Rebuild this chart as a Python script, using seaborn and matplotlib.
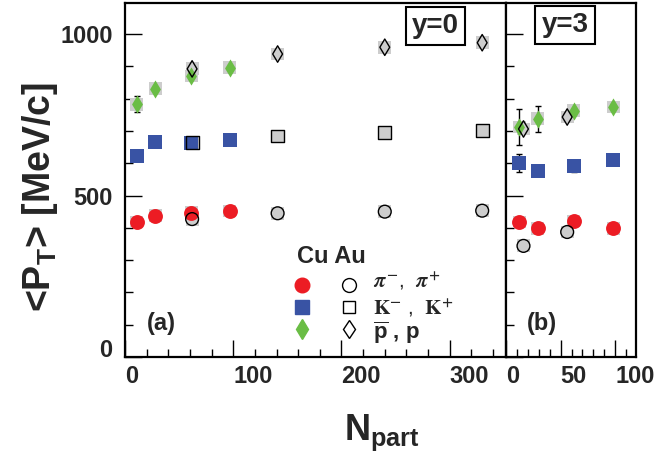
import numpy as np
import pandas as pd
import matplotlib
matplotlib.use("Agg")
import matplotlib.pyplot as plt
import seaborn as sns
from matplotlib.patches import Rectangle
from matplotlib.lines import Line2D

# ---------------- data ----------------
# y = 0 panel
y0_cu_npart = [11, 28, 61, 97]
y0_au_npart = [62, 141, 240, 330]
y0_cu_pi = [418, 437, 446, 452]
y0_au_pi = [427, 445, 450, 453]
y0_cu_k = [623, 665, 663, 672]
y0_au_k = [665, 684, 696, 701]
y0_cu_p = [782, 830, 870, 896]
y0_au_p = [892, 938, 959, 973]
y0_cu_p_err = [25, 0, 0, 0]

# y = 3 panel
y3_cu_npart = [12, 29, 62, 98]
y3_au_npart = [16, 56]
y3_cu_pi = [418, 399, 421, 399]
y3_au_pi = [344, 387]
y3_cu_k = [601, 576, 591, 610]
y3_cu_k_err = [27, 12, 18, 0]
y3_cu_p = [712, 737, 762, 774]
y3_cu_p_err = [57, 39, 0, 0]
y3_au_p = [706, 743]

panel_labels = ["(a)", "(b)"]
rapidity_labels = ["y=0", "y=3"]
legend_labels = [r"$\pi^{-}$,  $\pi^{+}$", r"$\mathrm{K}^{-}$ ,  $\mathrm{K}^{+}$", r"$\mathbf{\overline{p}}$ , p"]

# ---------------- style ----------------
sns.set_style("white")
plt.rcParams["font.family"] = ["Liberation Sans", "DejaVu Sans"]
plt.rcParams["font.weight"] = "bold"
plt.rcParams["mathtext.fontset"] = "custom"
plt.rcParams["mathtext.rm"] = "Liberation Sans:bold"
plt.rcParams["mathtext.bf"] = "Liberation Sans:bold"
plt.rcParams["mathtext.it"] = "Liberation Sans:bold"

RED = "#ec1c24"
BLUE = "#3953a4"
GREEN = "#6abd45"
BOXC = "#cdcdcd"
YMAX = 1096

fig = plt.figure(figsize=(6.55, 4.57), dpi=100)
axL = fig.add_axes([125 / 655, 1 - 357 / 457, 381 / 655, 354 / 457])
axR = fig.add_axes([506 / 655, 1 - 357 / 457, 130 / 655, 354 / 457])


def sys_boxes(ax, xs, ys, hw=6, hh=20):
    for x, y in zip(xs, ys):
        ax.add_patch(Rectangle((x - hw, y - hh), 2 * hw, 2 * hh, fc=BOXC, ec="none", zorder=1))


def filled(ax, xs, ys, marker, color, s):
    df = pd.DataFrame({"x": xs, "y": ys})
    sys_boxes(ax, xs, ys)
    sns.scatterplot(data=df, x="x", y="y", ax=ax, marker=marker, color=color, s=s,
                    linewidth=0, legend=False, zorder=3)


def opened(ax, xs, ys, marker, s):
    df = pd.DataFrame({"x": xs, "y": ys})
    sys_boxes(ax, xs, ys)
    sns.scatterplot(data=df, x="x", y="y", ax=ax, marker=marker, facecolors="none",
                    edgecolors="black", s=s, linewidth=1.0, legend=False, zorder=4)


def errs(ax, xs, ys, es):
    xs, ys, es = map(np.asarray, (xs, ys, es))
    m = es > 0
    ax.errorbar(xs[m], ys[m], yerr=es[m], fmt="none", ecolor="black", elinewidth=1,
                capsize=2.5, capthick=1, zorder=2)


# left panel
errs(axL, y0_cu_npart, y0_cu_p, y0_cu_p_err)
filled(axL, y0_cu_npart, y0_cu_pi, "o", RED, 115)
filled(axL, y0_cu_npart, y0_cu_k, "s", BLUE, 100)
filled(axL, y0_cu_npart, y0_cu_p, "d", GREEN, 85)
opened(axL, y0_au_npart, y0_au_pi, "o", 85)
opened(axL, y0_au_npart, y0_au_k, "s", 85)
opened(axL, y0_au_npart, y0_au_p, "d", 70)

# right panel
errs(axR, y3_cu_npart, y3_cu_p, y3_cu_p_err)
errs(axR, y3_cu_npart, y3_cu_k, y3_cu_k_err)
filled(axR, y3_cu_npart, y3_cu_pi, "o", RED, 115)
filled(axR, y3_cu_npart, y3_cu_k, "s", BLUE, 100)
filled(axR, y3_cu_npart, y3_cu_p, "d", GREEN, 85)
opened(axR, y3_au_npart, y3_au_pi, "o", 85)
opened(axR, y3_au_npart, y3_au_p, "d", 70)

# axes
for ax, xmax, major, minor in [(axL, 352, 100, 20), (axR, 119, 50, 10)]:
    ax.set_xlim(0, xmax)
    ax.set_ylim(0, YMAX)
    ax.set_xlabel("")
    ax.set_ylabel("")
    ax.set_xticks(np.arange(0, xmax, major))
    ax.set_xticks(np.arange(0, xmax, minor), minor=True)
    ax.set_yticks([0, 500, 1000])
    ax.set_yticks(np.arange(0, YMAX, 100), minor=True)
    ax.tick_params(axis="both", which="both", direction="in", color="black",
                   top=False, right=False, bottom=True, left=True)
    ax.tick_params(axis="both", which="major", length=12, width=1)
    ax.tick_params(axis="both", which="minor", length=6, width=1)
    ax.tick_params(axis="x", labelsize=17, pad=6)
    for sp in ax.spines.values():
        sp.set_linewidth(1.6)
        sp.set_color("black")
        sp.set_visible(True)
    for lbl in ax.get_xticklabels():
        lbl.set_ha("left")
        lbl.set_fontweight("bold")

axL.tick_params(axis="y", labelsize=17, pad=9)
for lbl in axL.get_yticklabels():
    lbl.set_fontweight("bold")
axL.get_yticklabels()[0].set_va("baseline")
axR.tick_params(axis="y", labelleft=False)

# panel annotations
axL.text(0.058, 0.096, panel_labels[0], transform=axL.transAxes, fontsize=17,
         fontweight="bold", va="center", ha="left")
axR.text(0.16, 0.096, panel_labels[1], transform=axR.transAxes, fontsize=17,
         fontweight="bold", va="center", ha="left")
box = dict(boxstyle="square,pad=0.22", fc="white", ec="black", lw=1.5)
axL.text(0.814, 0.935, rapidity_labels[0], transform=axL.transAxes, fontsize=20,
         fontweight="bold", ha="center", va="center", bbox=box, zorder=6)
axR.text(0.454, 0.938, rapidity_labels[1], transform=axR.transAxes, fontsize=20,
         fontweight="bold", ha="center", va="center", bbox=box, zorder=6)

# legend (hand laid out like the original)
axL.text(0.451, 0.283, "Cu Au", transform=axL.transAxes, fontsize=17,
         fontweight="bold", va="center", ha="left")
rows = [0.203, 0.141, 0.079]
specs = [("o", RED, 10.5), ("s", BLUE, 9.5), ("d", GREEN, 10)]
for yy, (mk, col, ms) in zip(rows, specs):
    axL.add_line(Line2D([0.465], [yy], transform=axL.transAxes, marker=mk, ms=ms,
                        color=col, mec=col, ls="none", clip_on=False, zorder=5))
    axL.add_line(Line2D([0.588], [yy], transform=axL.transAxes, marker=mk, ms=ms - 0.5,
                        mfc="white", mec="black", mew=1.0, ls="none", clip_on=False, zorder=5))
axL.text(0.652, rows[0] + 0.012, legend_labels[0], transform=axL.transAxes, fontsize=15,
         math_fontfamily="stix", va="center", ha="left", fontweight="normal")
axL.text(0.652, rows[1] - 0.002, legend_labels[1], transform=axL.transAxes, fontsize=15,
         math_fontfamily="stix", va="center", ha="left", fontweight="normal")
axL.text(0.652, rows[2] - 0.010, legend_labels[2], transform=axL.transAxes, fontsize=16,
         va="center", ha="left", fontweight="bold")

# axis titles
fig.text(40 / 655, 1 - 197 / 457, r"<P$_{\mathbf{T}}$> [MeV/c]", rotation=90,
         fontsize=27, fontweight="bold", ha="center", va="center")
fig.text(382 / 655, 1 - 433 / 457, r"N$_{\mathbf{part}}$", fontsize=26,
         fontweight="bold", ha="center", va="center")

fig.savefig("out.png", dpi=100)
